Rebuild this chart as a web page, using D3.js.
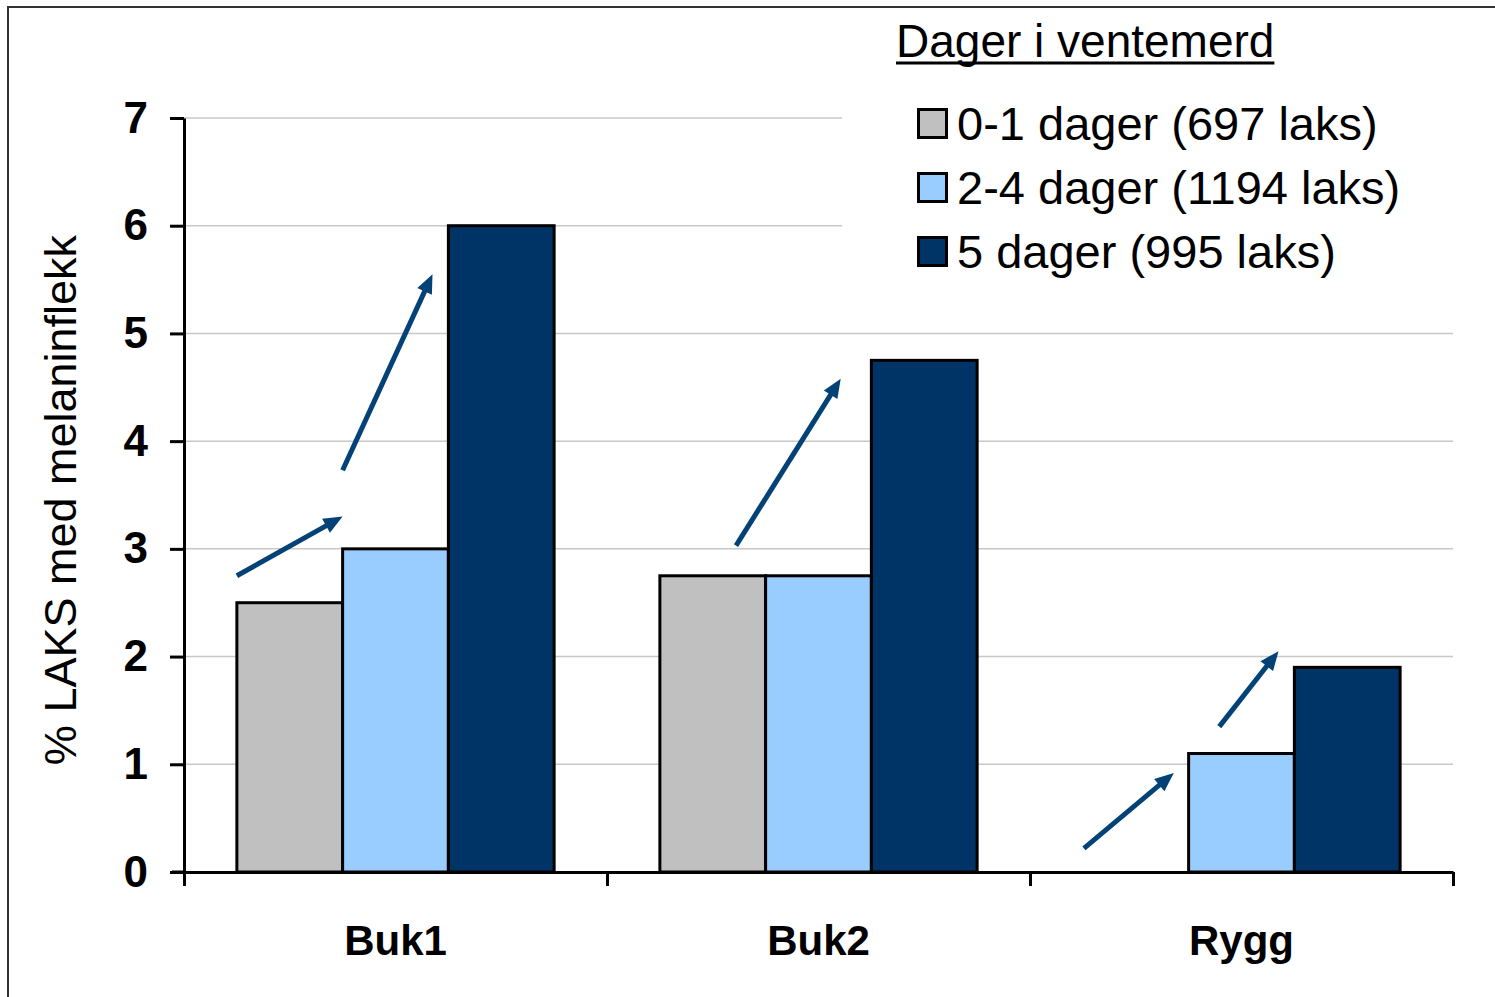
<!DOCTYPE html>
<html>
<head>
<meta charset="utf-8">
<script src="https://cdn.jsdelivr.net/npm/d3@7"></script>
<style>
  body { margin: 0; background: #fff; }
  svg { display: block; font-family: Arial, 'Liberation Sans', sans-serif; }
</style>
</head>
<body>
<svg width="1495" height="997"></svg>
<script>
'use strict';

// data
const categories = ['Buk1', 'Buk2', 'Rygg']
const seriesNames = ['0-1 dager (697 laks)', '2-4 dager (1194 laks)', '5 dager (995 laks)']
const seriesColors = ['#c0c0c0', '#99ccff', '#003366']
const values = [
  [2.5, 2.75, 0],
  [3.0, 2.75, 1.1],
  [6.0, 4.75, 1.9]
]
const yTicks = [0, 1, 2, 3, 4, 5, 6, 7]
const yTitle = '% LAKS med melaninflekk'
const legendTitle = 'Dager i ventemerd'
// arrows: category, position in bar widths from band start, value
const arrows = [
  {cat: 'Buk1', u0: 0.5, v0: 2.75, u1: 1.5, v1: 3.3},
  {cat: 'Buk1', u0: 1.5, v0: 3.73, u1: 2.35, v1: 5.55},
  {cat: 'Buk2', u0: 1.22, v0: 3.03, u1: 2.21, v1: 4.58},
  {cat: 'Rygg', u0: 0.51, v0: 0.22, u1: 1.36, v1: 0.92},
  {cat: 'Rygg', u0: 1.79, v0: 1.35, u1: 2.35, v1: 2.05}
]

const svg = d3.select('svg')
const margin = {top: 118, right: 42, bottom: 125, left: 184}
const W = 1495
const H = 997

// frame
svg.append('path')
  .attr('d', `M8,${H + 5} L8,7 L${W + 5},7`)
  .attr('fill', 'none').attr('stroke', '#333').attr('stroke-width', 2)

const x = d3.scaleBand().domain(categories).range([margin.left, W - margin.right])
const xSub = d3.scaleBand().domain(d3.range(seriesNames.length)).range([0, x.bandwidth()]).paddingOuter(0.5)
const unit = xSub.step()
const y = d3.scaleLinear().domain([0, 7]).range([H - margin.bottom, margin.top])

// grid
svg.append('g').selectAll('line')
  .data(yTicks.slice(1))
  .join('line')
  .attr('x1', margin.left).attr('x2', W - margin.right)
  .attr('y1', (d) => y(d)).attr('y2', (d) => y(d))
  .attr('stroke', '#c8c8c8').attr('stroke-width', 1.5)

// bars
const groups = svg.append('g').selectAll('g')
  .data(seriesNames)
  .join('g')
  .attr('fill', (d, i) => seriesColors[i])
groups.each(function(name, si) {
  d3.select(this).selectAll('rect')
    .data(categories.map((c, ci) => ({c, v: values[si][ci]})).filter((d) => d.v > 0))
    .join('rect')
    .attr('x', (d) => x(d.c) + xSub(si))
    .attr('width', xSub.bandwidth())
    .attr('y', (d) => y(d.v))
    .attr('height', (d) => y(0) - y(d.v))
    .attr('stroke', '#000').attr('stroke-width', 3)
})

// y axis
const yAxis = svg.append('g')
  .attr('transform', `translate(${margin.left},0)`)
  .call(d3.axisLeft(y).tickValues(yTicks).tickFormat(d3.format('d')).tickSize(14).tickPadding(22).tickSizeOuter(0))
yAxis.select('.domain').attr('stroke', '#000').attr('stroke-width', 3)
yAxis.selectAll('.tick line').attr('stroke', '#000').attr('stroke-width', 3)
yAxis.selectAll('.tick text')
  .attr('font-size', 44).attr('font-weight', 'bold').attr('fill', '#000')
  .attr('font-family', 'Arial, Liberation Sans, sans-serif')

// x axis: ticks at band boundaries
const xb = d3.scaleLinear().domain([0, categories.length]).range(x.range())
const xAxis = svg.append('g')
  .attr('transform', `translate(0,${y(0)})`)
  .call(d3.axisBottom(xb).ticks(categories.length).tickFormat('').tickSize(14).tickSizeOuter(0))
xAxis.select('.domain').attr('stroke', '#000').attr('stroke-width', 3)
xAxis.selectAll('.tick line').attr('stroke', '#000').attr('stroke-width', 3)
svg.append('line')
  .attr('x1', margin.left - 12).attr('x2', margin.left)
  .attr('y1', y(0)).attr('y2', y(0))
  .attr('stroke', '#000').attr('stroke-width', 3)

svg.append('g').selectAll('text')
  .data(categories)
  .join('text')
  .attr('x', (d) => x(d) + x.bandwidth() / 2)
  .attr('y', 955)
  .attr('text-anchor', 'middle')
  .attr('font-size', 42).attr('font-weight', 'bold')
  .text((d) => d)

// y title
svg.append('text')
  .attr('transform', `translate(76,${(y(0) + y(7)) / 2 + 5}) rotate(-90)`)
  .attr('text-anchor', 'middle')
  .attr('font-size', 45)
  .text(yTitle)

// arrows
const arrowColor = '#034277'
const ag = svg.append('g')
arrows.forEach((a) => {
  const x0 = x(a.cat) + a.u0 * unit
  const y0 = y(a.v0)
  const x1 = x(a.cat) + a.u1 * unit
  const y1 = y(a.v1)
  const len = Math.hypot(x1 - x0, y1 - y0)
  const ux = (x1 - x0) / len
  const uy = (y1 - y0) / len
  const head = 19
  const half = 8
  const bx = x1 - ux * head
  const by = y1 - uy * head
  ag.append('line')
    .attr('x1', x0).attr('y1', y0)
    .attr('x2', bx + ux * 2).attr('y2', by + uy * 2)
    .attr('stroke', arrowColor).attr('stroke-width', 5)
  ag.append('path')
    .attr('d', `M${x1},${y1} L${bx - uy * half},${by + ux * half} L${bx + uy * half},${by - ux * half} Z`)
    .attr('fill', arrowColor)
})

// legend
const legend = svg.append('g')
legend.append('rect')
  .attr('x', 842).attr('y', 12).attr('width', W - 842).attr('height', 290)
  .attr('fill', '#fff')
const titleText = legend.append('text')
  .attr('x', 896).attr('y', 57)
  .attr('font-size', 46)
  .text(legendTitle)
const tw = titleText.node().getComputedTextLength()
legend.append('line')
  .attr('x1', 896).attr('x2', 896 + tw)
  .attr('y1', 63).attr('y2', 63)
  .attr('stroke', '#000').attr('stroke-width', 3)

const items = legend.selectAll('g.item')
  .data(seriesNames)
  .join('g').classed('item', true)
  .attr('transform', (d, i) => `translate(917,${108 + i * 64})`)
items.append('rect')
  .attr('x', 1.5).attr('y', 1.5).attr('width', 28).attr('height', 28)
  .attr('fill', (d, i) => seriesColors[i])
  .attr('stroke', '#000').attr('stroke-width', 3)
items.append('text')
  .attr('x', 40).attr('y', 32)
  .attr('font-size', 47)
  .text((d) => d)
</script>
</body>
</html>
